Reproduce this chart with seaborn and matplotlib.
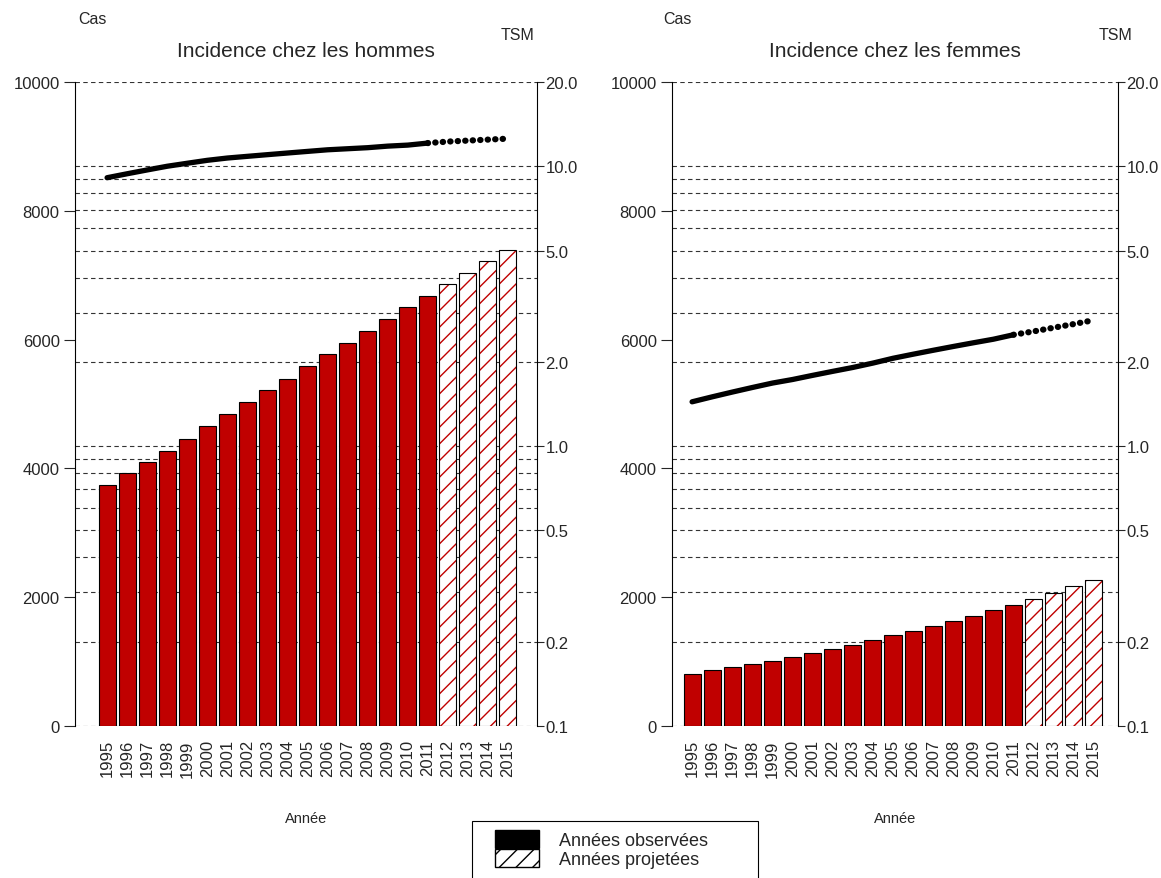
import matplotlib
matplotlib.use("Agg")
import matplotlib.pyplot as plt
import matplotlib.ticker as mticker
from matplotlib.patches import Patch, Rectangle
import seaborn as sns
import pandas as pd


# DONNÉES

annees = [str(a) for a in range(1995, 2016)]
n_observees = 17  # 1995-2011 observées, 2012-2015 projetées

cas_hommes = [3740, 3930, 4100, 4270, 4460, 4660, 4845, 5030, 5215, 5390,
              5590, 5775, 5945, 6135, 6320, 6505, 6675, 6865, 7035, 7220, 7390]
cas_femmes = [805, 870, 915, 965, 1010, 1070, 1135, 1195, 1260, 1335,
              1410, 1475, 1555, 1630, 1710, 1800, 1880, 1970, 2065, 2175, 2265]

tsm_hommes = [9.1, 9.4, 9.7, 10.0, 10.25, 10.5, 10.7, 10.85, 11.0, 11.15,
              11.3, 11.45, 11.55, 11.65, 11.8, 11.9, 12.1, 12.25, 12.35, 12.45, 12.55]
tsm_femmes = [1.44, 1.5, 1.56, 1.62, 1.68, 1.73, 1.79, 1.85, 1.91, 1.98,
              2.06, 2.13, 2.2, 2.27, 2.34, 2.41, 2.5, 2.57, 2.65, 2.73, 2.82]

titres = ["Incidence chez les hommes", "Incidence chez les femmes"]

ROUGE = "#C00000"


# STYLE

sns.set_style("white")
plt.rcParams["font.family"] = ["Liberation Sans", "DejaVu Sans"]
plt.rcParams["hatch.linewidth"] = 1.0

fig = plt.figure(figsize=(11.61, 8.79), dpi=100)

positions = [
    [75 / 1161, 1 - 727 / 879, 462 / 1161, 644 / 879],
    [672 / 1161, 1 - 727 / 879, 446 / 1161, 644 / 879],
]
xlims = [(-1.6, 21.45), (-1.0, 21.2)]


def panneau(pos, xlim, titre, cas, tsm, x_cas, x_tsm):

    ax = fig.add_axes(pos)
    ax2 = ax.twinx()

    # axe TSM derrière les barres (grille en pointillé)
    ax.set_zorder(ax2.get_zorder() + 1)
    ax.patch.set_visible(False)

    df = pd.DataFrame({"annee": annees, "cas": cas})

    sns.barplot(
        data=df,
        x="annee",
        y="cas",
        color=ROUGE,
        saturation=1,
        edgecolor="black",
        linewidth=0.8,
        width=0.85,
        ax=ax
    )

    # barres projetées : fond blanc, hachures rouges, contour noir
    for i, p in enumerate(list(ax.patches)):
        if i >= n_observees:
            p.set_facecolor("white")
            p.set_hatch("//")
            p.set_edgecolor(ROUGE)
            p.set_linewidth(0)
            contour = Rectangle(
                p.get_xy(), p.get_width(), p.get_height(),
                facecolor="none", edgecolor="black", linewidth=0.8,
                zorder=p.get_zorder() + 0.1
            )
            ax.add_patch(contour)

    ax.set_ylim(0, 10000)
    ax.set_xlim(*xlim)
    ax.set_yticks([0, 2000, 4000, 6000, 8000, 10000])
    ax.tick_params(axis="y", left=True, length=8, width=0.8,
                   labelsize=12, pad=3)
    ax.tick_params(axis="x", bottom=False, labelsize=12,
                   labelrotation=90, pad=6)
    ax.set_ylabel("")
    ax.set_xlabel("Année", fontsize=10.5, labelpad=25)
    ax.set_title(titre, fontsize=15, pad=19)

    for s in ["top", "right", "bottom"]:
        ax.spines[s].set_visible(False)
    ax.spines["left"].set_color("black")
    ax.spines["left"].set_linewidth(0.8)

    # TSM (échelle log)
    ax2.set_yscale("log")
    ax2.set_ylim(0.1, 20)

    x_obs = list(range(n_observees))
    x_proj = list(range(n_observees - 1, len(annees)))

    sns.lineplot(
        x=x_obs,
        y=tsm[:n_observees],
        color="black",
        linewidth=3.8,
        ax=ax2
    )

    sns.lineplot(
        x=x_proj,
        y=tsm[n_observees - 1:],
        color="black",
        linewidth=4.5,
        linestyle=(0, (0.05, 1.15)),
        dash_capstyle="round",
        ax=ax2
    )

    ax2.set_yticks([0.1, 0.2, 0.5, 1, 2, 5, 10, 20])
    ax2.yaxis.set_major_formatter(mticker.FormatStrFormatter("%.1f"))
    ax2.yaxis.set_minor_locator(
        mticker.LogLocator(base=10, subs=range(1, 10), numticks=20)
    )
    ax2.yaxis.set_minor_formatter(mticker.NullFormatter())
    ax2.tick_params(axis="y", which="major", right=True, length=5,
                    width=0.8, labelsize=12, pad=1)
    ax2.tick_params(axis="y", which="minor", right=False, length=0)
    ax2.grid(True, which="both", axis="y", color="#333333",
             linestyle=(0, (4, 3)), linewidth=0.8)
    ax2.grid(False, axis="x")
    ax2.set_ylabel("")

    for s in ["top", "left", "bottom"]:
        ax2.spines[s].set_visible(False)
    ax2.spines["right"].set_color("black")
    ax2.spines["right"].set_linewidth(0.8)

    fig.text(x_cas / 1161, 1 - 20 / 879, "Cas", fontsize=11.5,
             ha="left", va="center")
    fig.text(x_tsm / 1161, 1 - 35 / 879, "TSM", fontsize=11.5,
             ha="left", va="center")

    return ax, ax2


panneau(positions[0], xlims[0], titres[0], cas_hommes, tsm_hommes, 78, 501)
panneau(positions[1], xlims[1], titres[1], cas_femmes, tsm_femmes, 663, 1099)


# LÉGENDE

cadre = Rectangle(
    (472 / 1161, -0.01), (758 - 472) / 1161, 0.01 + (879 - 822) / 879,
    transform=fig.transFigure, facecolor="white", edgecolor="black",
    linewidth=0.8
)
fig.patches.append(cadre)

handles = [
    Patch(facecolor="black", edgecolor="black"),
    Patch(facecolor="white", edgecolor="black", hatch="//")
]

leg = fig.legend(
    handles,
    ["Années observées", "Années projetées"],
    loc="upper left",
    bbox_to_anchor=(495 / 1161, 1 - 831 / 879),
    fontsize=13,
    frameon=False,
    handlelength=2.45,
    handleheight=1.15,
    labelspacing=0.0,
    handletextpad=1.1,
    borderpad=0,
    borderaxespad=0
)

fig.savefig("out.png", dpi=100)
